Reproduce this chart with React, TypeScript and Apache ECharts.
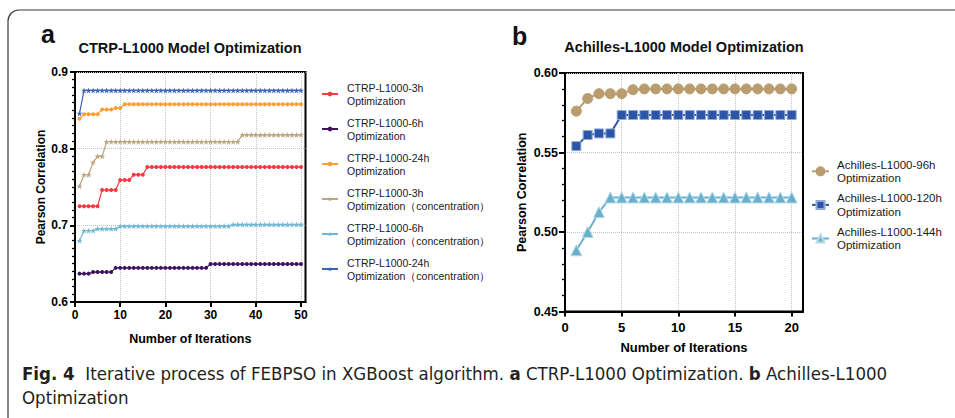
import React, { useEffect, useRef } from 'react';
import * as echarts from 'echarts';

const ITER_A = [1, 2, 3, 4, 5, 6, 7, 8, 9, 10, 11, 12, 13, 14, 15, 16, 17, 18, 19, 20, 21, 22, 23, 24, 25, 26, 27, 28, 29, 30, 31, 32, 33, 34, 35, 36, 37, 38, 39, 40, 41, 42, 43, 44, 45, 46, 47, 48, 49, 50];
const X_TICKS_A = [0, 10, 20, 30, 40, 50];

const CTRP_3H = [0.725, 0.725, 0.725, 0.725, 0.725, 0.746, 0.746, 0.746, 0.746, 0.759, 0.759, 0.759, 0.766, 0.766, 0.766, 0.776, 0.776, 0.776, 0.776, 0.776, 0.776, 0.776, 0.776, 0.776, 0.776, 0.776, 0.776, 0.776, 0.776, 0.776, 0.776, 0.776, 0.776, 0.776, 0.776, 0.776, 0.776, 0.776, 0.776, 0.776, 0.776, 0.776, 0.776, 0.776, 0.776, 0.776, 0.776, 0.776, 0.776, 0.776];
const CTRP_6H = [0.637, 0.637, 0.637, 0.639, 0.639, 0.639, 0.639, 0.639, 0.6445, 0.6445, 0.6445, 0.6445, 0.6445, 0.6445, 0.6445, 0.6445, 0.6445, 0.6445, 0.6445, 0.6445, 0.6445, 0.6445, 0.6445, 0.6445, 0.6445, 0.6445, 0.6445, 0.6445, 0.6445, 0.6495, 0.6495, 0.6495, 0.6495, 0.6495, 0.6495, 0.6495, 0.6495, 0.6495, 0.6495, 0.6495, 0.6495, 0.6495, 0.6495, 0.6495, 0.6495, 0.6495, 0.6495, 0.6495, 0.6495, 0.6495];
const CTRP_24H = [0.839, 0.845, 0.845, 0.845, 0.845, 0.851, 0.851, 0.851, 0.853, 0.853, 0.858, 0.858, 0.858, 0.858, 0.858, 0.858, 0.858, 0.858, 0.858, 0.858, 0.858, 0.858, 0.858, 0.858, 0.858, 0.858, 0.858, 0.858, 0.858, 0.858, 0.858, 0.858, 0.858, 0.858, 0.858, 0.858, 0.858, 0.858, 0.858, 0.858, 0.858, 0.858, 0.858, 0.858, 0.858, 0.858, 0.858, 0.858, 0.858, 0.858];
const CTRP_3H_C = [0.751, 0.766, 0.766, 0.782, 0.79, 0.79, 0.809, 0.809, 0.809, 0.809, 0.809, 0.809, 0.809, 0.809, 0.809, 0.809, 0.809, 0.809, 0.809, 0.809, 0.809, 0.809, 0.809, 0.809, 0.809, 0.809, 0.809, 0.809, 0.809, 0.809, 0.809, 0.809, 0.809, 0.809, 0.809, 0.809, 0.818, 0.818, 0.818, 0.818, 0.818, 0.818, 0.818, 0.818, 0.818, 0.818, 0.818, 0.818, 0.818, 0.818];
const CTRP_6H_C = [0.68, 0.693, 0.693, 0.693, 0.6955, 0.6955, 0.6955, 0.6955, 0.6955, 0.699, 0.699, 0.699, 0.699, 0.699, 0.699, 0.699, 0.699, 0.699, 0.699, 0.699, 0.699, 0.699, 0.699, 0.699, 0.699, 0.699, 0.699, 0.699, 0.699, 0.699, 0.699, 0.699, 0.699, 0.699, 0.701, 0.701, 0.701, 0.701, 0.701, 0.701, 0.701, 0.701, 0.701, 0.701, 0.701, 0.701, 0.701, 0.701, 0.701, 0.701];
const CTRP_24H_C = [0.846, 0.876, 0.876, 0.876, 0.876, 0.876, 0.876, 0.876, 0.876, 0.876, 0.876, 0.876, 0.876, 0.876, 0.876, 0.876, 0.876, 0.876, 0.876, 0.876, 0.876, 0.876, 0.876, 0.876, 0.876, 0.876, 0.876, 0.876, 0.876, 0.876, 0.876, 0.876, 0.876, 0.876, 0.876, 0.876, 0.876, 0.876, 0.876, 0.876, 0.876, 0.876, 0.876, 0.876, 0.876, 0.876, 0.876, 0.876, 0.876, 0.876];

const ITER_B = [1, 2, 3, 4, 5, 6, 7, 8, 9, 10, 11, 12, 13, 14, 15, 16, 17, 18, 19, 20];
const X_TICKS_B = [0, 5, 10, 15, 20];
const ACH_96H = [0.576, 0.584, 0.587, 0.587, 0.587, 0.5895, 0.590, 0.590, 0.590, 0.590, 0.590, 0.590, 0.590, 0.590, 0.590, 0.590, 0.590, 0.590, 0.590, 0.590];
const ACH_120H = [0.554, 0.561, 0.562, 0.562, 0.5736, 0.5736, 0.5736, 0.5736, 0.5736, 0.5736, 0.5736, 0.5736, 0.5736, 0.5736, 0.5736, 0.5736, 0.5736, 0.5736, 0.5736, 0.5736];
const ACH_144H = [0.4885, 0.500, 0.5125, 0.5217, 0.5217, 0.5217, 0.5217, 0.5217, 0.5217, 0.5217, 0.5217, 0.5217, 0.5217, 0.5217, 0.5217, 0.5217, 0.5217, 0.5217, 0.5217, 0.5217];

const NAMES_A = [
  'CTRP-L1000-3h\nOptimization',
  'CTRP-L1000-6h\nOptimization',
  'CTRP-L1000-24h\nOptimization',
  'CTRP-L1000-3h\nOptimization（concentration）',
  'CTRP-L1000-6h\nOptimization（concentration）',
  'CTRP-L1000-24h\nOptimization（concentration）',
];
const NAMES_B = [
  'Achilles-L1000-96h\nOptimization',
  'Achilles-L1000-120h\nOptimization',
  'Achilles-L1000-144h\nOptimization',
];

const FONT = '"Liberation Sans", Arial, Helvetica, sans-serif';
const CAP_FONT = '"Liberation Sans Narrow", "DejaVu Sans Condensed", "Liberation Sans", sans-serif';
const STAR = 'path://M50,0L61.2,34.5L97.6,34.5L68.2,55.9L79.4,90.5L50,69.1L20.6,90.5L31.8,55.9L2.4,34.5L38.8,34.5Z';

function pairs(xs: number[], ys: number[]) {
  return xs.map((x, i) => [x, ys[i]]);
}

export default function App() {
  const ref = useRef<HTMLDivElement>(null);
  useEffect(() => {
    if (!ref.current) return;
    const chart = echarts.init(ref.current, null, { renderer: 'svg' });

    const leftSeries = [
      { data: CTRP_3H, color: '#F23A3F', symbol: 'circle', size: 4 },
      { data: CTRP_6H, color: '#3E1460', symbol: 'circle', size: 4 },
      { data: CTRP_24H, color: '#FF9F33', symbol: 'circle', size: 4 },
      { data: CTRP_3H_C, color: '#BBA47F', symbol: STAR, size: 6 },
      { data: CTRP_6H_C, color: '#72B6D6', symbol: STAR, size: 6 },
      { data: CTRP_24H_C, color: '#3D63B5', symbol: STAR, size: 6 },
    ].map((s, i) => ({
      type: 'line',
      name: NAMES_A[i],
      xAxisIndex: 0,
      yAxisIndex: 0,
      data: pairs(ITER_A, s.data),
      symbol: s.symbol,
      symbolSize: s.size,
      showSymbol: true,
      color: s.color,
      lineStyle: { color: s.color, width: 1.2 },
      itemStyle: { color: s.color },
      z: 3,
    }));

    const rightSeries = [
      { data: ACH_96H, color: '#B99D6E', symbol: 'circle', size: 10, border: '#B99D6E' },
      { data: ACH_120H, color: '#2C55A8', symbol: 'rect', size: 9, border: '#8FA9D9' },
      { data: ACH_144H, color: '#6AAFCB', symbol: 'triangle', size: 11, border: '#B5DCEB' },
    ].map((s, i) => ({
      type: 'line',
      name: NAMES_B[i],
      xAxisIndex: 1,
      yAxisIndex: 1,
      data: pairs(ITER_B, s.data),
      symbol: s.symbol,
      symbolSize: s.size,
      showSymbol: true,
      color: s.color,
      lineStyle: { color: s.color, width: 2 },
      itemStyle: { color: s.color, borderColor: s.border, borderWidth: 1 },
      z: 3,
    }));

    const axisLineStyle = { color: '#000', width: 2 };
    const labelStyle = { color: '#000', fontWeight: 'bold' as const, fontFamily: FONT };
    const splitStyle = { show: true, lineStyle: { type: 'dotted' as const, color: '#c4c4c4', width: 1 } };

    const option = {
      animation: false,
      textStyle: { fontFamily: FONT },
      grid: [
        { left: 75, top: 72, width: 230.5, height: 230, show: true, borderColor: '#000', borderWidth: 2 },
        { left: 565, top: 73, width: 238, height: 238.5, show: true, borderColor: '#000', borderWidth: 2 },
      ],
      xAxis: [
        {
          gridIndex: 0, type: 'value', min: 0, max: 51, interval: 10,
          name: 'Number of Iterations', nameLocation: 'middle', nameGap: 30,
          nameTextStyle: { ...labelStyle, fontSize: 12.5 },
          axisLine: { show: true, onZero: false, lineStyle: axisLineStyle },
          axisTick: { show: true, length: 5, lineStyle: axisLineStyle, customValues: X_TICKS_A },
          axisLabel: { ...labelStyle, fontSize: 12, margin: 7, customValues: X_TICKS_A },
          splitLine: splitStyle,
        },
        {
          gridIndex: 1, type: 'value', min: 0, max: 21, interval: 5,
          name: 'Number of Iterations', nameLocation: 'middle', nameGap: 29,
          nameTextStyle: { ...labelStyle, fontSize: 13 },
          axisLine: { show: true, onZero: false, lineStyle: axisLineStyle },
          axisTick: { show: true, length: 5, lineStyle: axisLineStyle, customValues: X_TICKS_B },
          axisLabel: { ...labelStyle, fontSize: 13, margin: 9, customValues: X_TICKS_B },
          splitLine: splitStyle,
        },
      ],
      yAxis: [
        {
          gridIndex: 0, type: 'value', min: 0.6, max: 0.9, interval: 0.1,
          name: 'Pearson Correlation', nameLocation: 'middle', nameGap: 25,
          nameTextStyle: { ...labelStyle, fontSize: 12 },
          axisLine: { show: true, onZero: false, lineStyle: axisLineStyle },
          axisTick: { show: true, length: 5, lineStyle: axisLineStyle },
          minorTick: { show: true, splitNumber: 10, length: 3, lineStyle: { color: '#000', width: 1.3 } },
          axisLabel: { ...labelStyle, fontSize: 12, margin: 7, formatter: (v: number) => v.toFixed(1) },
          splitLine: splitStyle,
        },
        {
          gridIndex: 1, type: 'value', min: 0.45, max: 0.6, interval: 0.05,
          name: 'Pearson Correlation', nameLocation: 'middle', nameGap: 37,
          nameTextStyle: { ...labelStyle, fontSize: 12.5 },
          axisLine: { show: true, onZero: false, lineStyle: axisLineStyle },
          axisTick: { show: true, length: 6, lineStyle: axisLineStyle },
          minorTick: { show: true, splitNumber: 5, length: 3, lineStyle: { color: '#000', width: 1.3 } },
          axisLabel: { ...labelStyle, fontSize: 12.5, margin: 7, formatter: (v: number) => v.toFixed(2) },
          splitLine: splitStyle,
        },
      ],
      legend: [
        {
          data: NAMES_A, orient: 'vertical', left: 316, top: 76,
          itemWidth: 16, itemHeight: 6, itemGap: 9, selectedMode: false,
          textStyle: { fontSize: 10.5, lineHeight: 13, color: '#1a1a1a', fontFamily: FONT, padding: [0, 0, 0, 4] },
        },
        {
          data: NAMES_B, orient: 'vertical', left: 806, top: 153,
          itemWidth: 17, itemHeight: 10, itemGap: 7, selectedMode: false,
          textStyle: { fontSize: 11.5, lineHeight: 13.3, color: '#1a1a1a', fontFamily: FONT, padding: [0, 0, 0, 3] },
        },
      ],
      graphic: [
        { type: 'rect', shape: { x: 8, y: 10, width: 975, height: 425, r: 11 }, style: { fill: 'none', stroke: '#3a3a3a', lineWidth: 1.2 }, silent: true },
        { type: 'text', x: 41, y: 34, style: { text: 'a', fontSize: 25, fontWeight: 'bold', fontFamily: FONT, fill: '#111', verticalAlign: 'middle' } },
        { type: 'text', x: 512, y: 36, style: { text: 'b', fontSize: 25, fontWeight: 'bold', fontFamily: FONT, fill: '#111', verticalAlign: 'middle' } },
        { type: 'text', x: 190, y: 47.5, style: { text: 'CTRP-L1000 Model Optimization', fontSize: 14.5, fontWeight: 'bold', fontFamily: FONT, fill: '#111', align: 'center', verticalAlign: 'middle' } },
        { type: 'text', x: 684, y: 47, style: { text: 'Achilles-L1000 Model Optimization', fontSize: 14.5, fontWeight: 'bold', fontFamily: FONT, fill: '#111', align: 'center', verticalAlign: 'middle' } },
        {
          type: 'text', x: 22, y: 373,
          style: {
            text: '{b|Fig. 4}  {r|Iterative process of FEBPSO in XGBoost algorithm.} {b|a} {r|CTRP-L1000 Optimization.} {b|b} {r|Achilles-L1000}',
            fontSize: 18.5, fontFamily: CAP_FONT, fill: '#231f20', verticalAlign: 'middle',
            rich: {
              b: { fontSize: 18.5, fontFamily: CAP_FONT, fontWeight: 'bold', fill: '#231f20' },
              r: { fontSize: 18.5, fontFamily: CAP_FONT, fill: '#231f20' },
            },
          },
        },
        { type: 'text', x: 22, y: 397, style: { text: 'Optimization', fontSize: 18.5, fontFamily: CAP_FONT, fill: '#231f20', verticalAlign: 'middle' } },
      ],
      series: [...leftSeries, ...rightSeries],
    };

    chart.setOption(option as any);
    return () => chart.dispose();
  }, []);

  return <div ref={ref} style={{ position: 'fixed', left: 0, top: 0, width: 955, height: 418, background: '#fff' }} />;
}
